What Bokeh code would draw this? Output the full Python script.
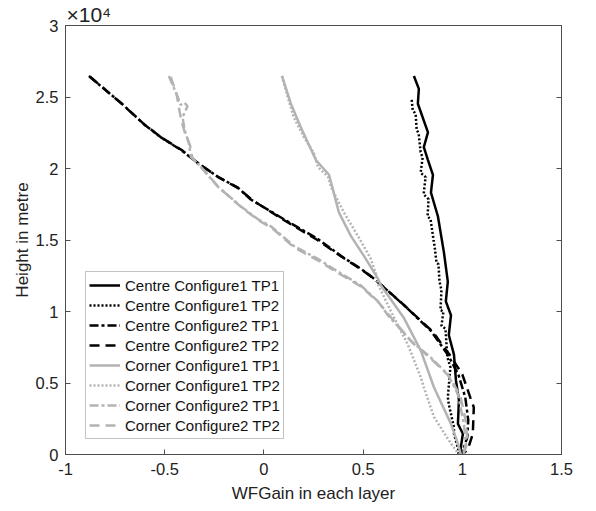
from bokeh.plotting import figure
from bokeh.models import Range1d, FixedTicker, LinearAxis
from bokeh.embed import file_html
from bokeh.resources import INLINE

# ---- data (x: WFGain, y: height in metres) ----
c1tp1_x = [0.756, 0.781, 0.776, 0.827, 0.806, 0.827, 0.852, 0.842, 0.877, 0.907, 0.927, 0.917,
           0.943, 0.932, 0.958, 0.968, 0.983, 0.978, 1.003, 0.993, 0.99]
c1tp1_y = [26470, 25570, 24530, 22530, 21490, 20590, 19560, 18310, 16660, 14170, 12090, 10710,
           9740, 8360, 6980, 5180, 3800, 2140, 1450, 550, 0]

c1tp2_x = [0.745, 0.750, 0.765, 0.770, 0.780, 0.790, 0.800, 0.790, 0.815, 0.805, 0.830, 0.825,
           0.840, 0.855, 0.860, 0.870, 0.880, 0.885, 0.895, 0.890, 0.905, 0.895, 0.915, 0.925,
           0.940, 0.927, 0.932, 0.958, 0.958, 0.983, 0.980]
c1tp2_y = [24800, 24100, 23800, 22700, 22450, 21150, 20750, 19700, 19400, 18200, 17850, 16650,
           16450, 15000, 14600, 13400, 13300, 12100, 11500, 10100, 10000, 9000, 8800, 6800,
           6100, 4000, 3500, 1900, 1450, 200, 0]

c2tp1_x = [-0.882, -0.800, -0.721, -0.605, -0.519, -0.418, -0.333, -0.232, -0.131, -0.066, 0.101,
           0.272, 0.388, 0.489, 0.554, 0.706, 0.842, 0.927, 0.980, 1.015, 1.030, 1.025, 1.005, 0.990]
c2tp1_y = [26470, 25500, 24600, 23100, 22180, 21290, 20390, 19420, 18660, 17830, 16450,
           15070, 13890, 12990, 12300, 10440, 8640, 6980, 5600, 4000, 2400, 1200, 350, 0]

c2tp2_x = [-0.875, -0.790, -0.715, -0.600, -0.515, -0.410, -0.330, -0.230, -0.130, -0.060, 0.100,
           0.270, 0.390, 0.490, 0.560, 0.710, 0.850, 0.940, 1.000, 1.040, 1.058, 1.053, 1.028, 1.000]
c2tp2_y = [26400, 25400, 24500, 23050, 22150, 21250, 20350, 19400, 18630, 17800, 16400,
           15000, 13850, 12950, 12250, 10400, 8600, 6900, 5600, 4000, 3300, 1450, 350, 0]

k1tp1_x = [0.091, 0.136, 0.186, 0.262, 0.328, 0.348, 0.378, 0.439, 0.504, 0.575, 0.590, 0.706,
           0.791, 0.857, 0.943, 0.978, 0.993]
k1tp1_y = [26470, 24530, 22880, 20590, 19560, 18520, 16930, 15270, 13890, 12300, 11820, 9540,
           7260, 4700, 2140, 760, 0]

k1tp2_x = [0.091, 0.120, 0.151, 0.202, 0.252, 0.272, 0.323, 0.340, 0.403, 0.474, 0.539, 0.565,
           0.575, 0.640, 0.726, 0.791, 0.806, 0.857, 0.943, 0.983]
k1tp2_y = [26470, 25000, 23570, 22180, 21080, 20110, 19420, 18660, 16930, 15270, 13680, 12600,
           11900, 10020, 7670, 5390, 4700, 2630, 760, 0]

k2tp1_x = [-0.479, -0.433, -0.420, -0.400, -0.385, -0.410, -0.400, -0.378, -0.368, -0.318, -0.232,
           -0.116, -0.030, 0.035, 0.151, 0.272, 0.373, 0.489, 0.575, 0.625, 0.741, 0.842, 0.927,
           0.978, 1.008, 1.018, 1.003]
k2tp1_y = [26470, 24950, 24450, 24600, 24350, 23600, 22700, 21770, 20800, 20110, 18730,
           17350, 16450, 15960, 14580, 13680, 12790, 11820, 10710, 9740, 7950, 6770, 5600,
           4220, 2140, 760, 0]

k2tp2_x = [-0.470, -0.440, -0.425, -0.415, -0.398, -0.372, -0.360, -0.310, -0.225, -0.110, -0.025,
           0.040, 0.155, 0.275, 0.380, 0.495, 0.580, 0.640, 0.750, 0.850, 0.935, 0.990, 1.020,
           1.025, 1.005]
k2tp2_y = [26400, 25200, 24000, 23300, 22500, 21600, 20700, 20000, 18650, 17250, 16350,
           15850, 14450, 13550, 12650, 11700, 10600, 9600, 7800, 6600, 5450, 4100, 2200,
           800, 0]

x_ticks = [-1, -0.5, 0, 0.5, 1, 1.5]
x_tick_labels = ["-1", "-0.5", "0", "0.5", "1", "1.5"]
y_ticks = [0, 5000, 10000, 15000, 20000, 25000, 30000]
y_tick_labels = ["0", "0.5", "1", "1.5", "2", "2.5", "3"]

FONT = "Liberation Sans"
BLACK = "#000000"
GRAY = "#b3b3b3"
AXC = "#4d4d4d"
TXT = "#222222"

p = figure(width=590, height=505, output_backend="svg", toolbar_location=None,
           x_range=Range1d(-1, 1.5), y_range=Range1d(0, 30000))
p.min_border_left = 65
p.min_border_right = 29
p.min_border_top = 24
p.min_border_bottom = 47
p.background_fill_color = "white"
p.border_fill_color = "white"
p.grid.visible = False
p.outline_line_color = AXC
p.outline_line_width = 1

LW = 2.5
DOT = "2 2"
DASHDOT = "9 3 3 3"
DASH = "10 6"
p.line(c1tp1_x, c1tp1_y, color=BLACK, line_width=LW, legend_label="Centre Configure1 TP1")
p.line(c1tp2_x, c1tp2_y, color=BLACK, line_width=LW, line_dash=DOT, legend_label="Centre Configure1 TP2")
p.line(c2tp1_x, c2tp1_y, color=BLACK, line_width=LW, line_dash=DASHDOT, legend_label="Centre Configure2 TP1")
p.line(c2tp2_x, c2tp2_y, color=BLACK, line_width=LW, line_dash=DASH, legend_label="Centre Configure2 TP2")
p.line(k1tp1_x, k1tp1_y, color=GRAY, line_width=LW, legend_label="Corner Configure1 TP1")
p.line(k1tp2_x, k1tp2_y, color=GRAY, line_width=LW, line_dash=DOT, legend_label="Corner Configure1 TP2")
p.line(k2tp1_x, k2tp1_y, color=GRAY, line_width=LW, line_dash=DASHDOT, legend_label="Corner Configure2 TP1")
p.line(k2tp2_x, k2tp2_y, color=GRAY, line_width=LW, line_dash=DASH, legend_label="Corner Configure2 TP2")

for ax in (p.xaxis[0], p.yaxis[0]):
    ax.major_tick_in = 5
    ax.major_tick_out = 0
    ax.minor_tick_in = 0
    ax.minor_tick_out = 0
    ax.axis_line_color = AXC
    ax.major_tick_line_color = AXC
    ax.major_label_text_font = FONT
    ax.major_label_text_font_size = "16.5px"
    ax.major_label_text_color = TXT
    ax.axis_label_text_font = FONT
    ax.axis_label_text_font_size = "17px"
    ax.axis_label_text_font_style = "normal"
    ax.axis_label_text_color = TXT

p.xaxis.ticker = FixedTicker(ticks=x_ticks)
p.yaxis.ticker = FixedTicker(ticks=y_ticks)
p.yaxis.major_label_overrides = {t: s for t, s in zip(y_ticks, y_tick_labels)}
p.xaxis.major_label_overrides = {t: s for t, s in zip(x_ticks, x_tick_labels)}
p.xaxis.axis_label = "WFGain in each layer"
p.yaxis.axis_label = "Height in metre"
p.xaxis.major_label_standoff = 8
p.xaxis.axis_label_standoff = 6
p.yaxis.major_label_standoff = 7
p.yaxis.axis_label_standoff = 1

# mirrored ticks on right (box on)
right = LinearAxis(ticker=FixedTicker(ticks=y_ticks),
                   major_label_overrides={t: "" for t in y_ticks},
                   major_tick_in=5, major_tick_out=0, minor_tick_in=0, minor_tick_out=0,
                   axis_line_color=AXC, major_tick_line_color=AXC)
p.add_layout(right, "right")

# exponent marker as title
p.title.text = "×10⁴"
p.title.align = "left"
p.title.text_font = FONT
p.title.text_font_size = "21px"
p.title.text_font_style = "normal"
p.title.text_color = TXT
p.title.standoff = 0
p.title.offset = 1

lg = p.legend[0]
lg.location = (20, 15)
lg.label_text_font = FONT
lg.label_text_font_size = "15px"
lg.label_text_color = "#111111"
lg.glyph_width = 31
lg.glyph_height = 20
lg.label_height = 20
lg.spacing = 0
lg.padding = 3
lg.margin = 0
lg.label_standoff = 5
lg.border_line_color = "#888888"
lg.border_line_width = 1
lg.background_fill_alpha = 1

open("out.html", "w").write(file_html(p, INLINE))
